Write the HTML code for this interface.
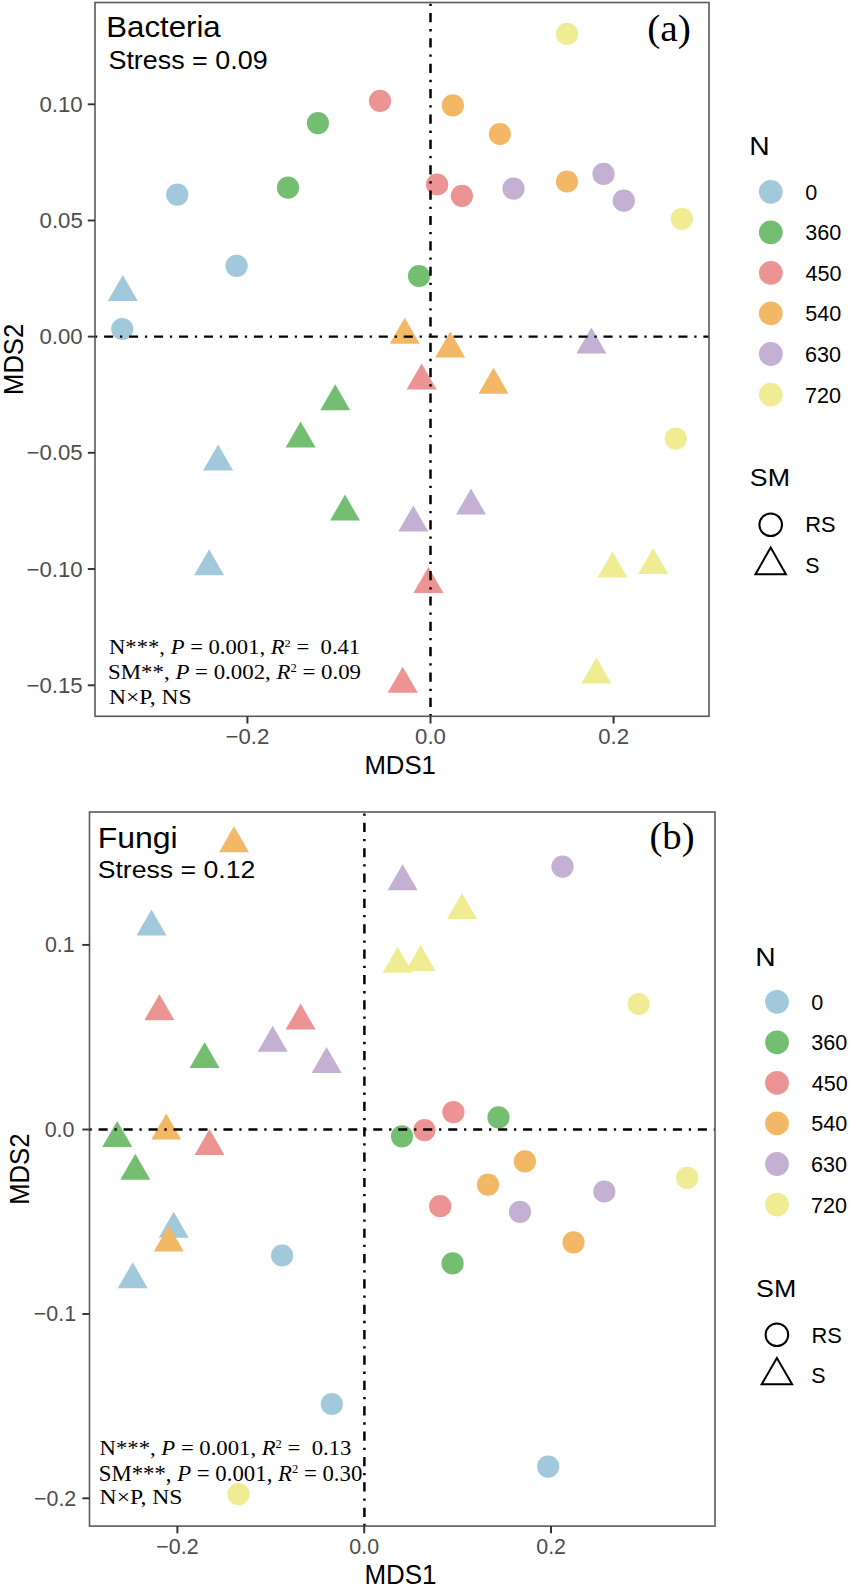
<!DOCTYPE html><html><head><meta charset='utf-8'><style>html,body{margin:0;padding:0;background:#fff}svg{display:block}</style></head><body><svg width='850' height='1587' viewBox='0 0 850 1587'><rect width='850' height='1587' fill='#fff'/><circle cx='380' cy='100.9' r='11.1' fill='#EC9494'/><circle cx='317.9' cy='123.1' r='11.1' fill='#74BE72'/><circle cx='177.3' cy='194.6' r='11.1' fill='#A2C8DC'/><circle cx='288' cy='187.7' r='11.1' fill='#74BE72'/><circle cx='236.6' cy='265.8' r='11.1' fill='#A2C8DC'/><circle cx='122.3' cy='329' r='11.1' fill='#A2C8DC'/><circle cx='567' cy='33.9' r='11.1' fill='#F0EC94'/><circle cx='452.9' cy='105.4' r='11.1' fill='#F2B866'/><circle cx='499.9' cy='134' r='11.1' fill='#F2B866'/><circle cx='437.1' cy='184.5' r='11.1' fill='#EC9494'/><circle cx='461.9' cy='195.8' r='11.1' fill='#EC9494'/><circle cx='513.5' cy='188.6' r='11.1' fill='#C4B0D2'/><circle cx='567' cy='181.5' r='11.1' fill='#F2B866'/><circle cx='603.5' cy='173.9' r='11.1' fill='#C4B0D2'/><circle cx='623.8' cy='200.7' r='11.1' fill='#C4B0D2'/><circle cx='681.8' cy='218.8' r='11.1' fill='#F0EC94'/><circle cx='419' cy='276' r='11.1' fill='#74BE72'/><circle cx='675.8' cy='438.6' r='11.1' fill='#F0EC94'/><path d='M122.8 274.9L137.8 300.9L107.8 300.9Z' fill='#A2C8DC'/><path d='M335.2 384.3L350.2 410.3L320.2 410.3Z' fill='#74BE72'/><path d='M300.6 421.6L315.6 447.6L285.6 447.6Z' fill='#74BE72'/><path d='M218.1 444.6L233.1 470.6L203.1 470.6Z' fill='#A2C8DC'/><path d='M345 494.6L360 520.6L330 520.6Z' fill='#74BE72'/><path d='M209.1 549.2L224.1 575.2L194.1 575.2Z' fill='#A2C8DC'/><path d='M404.7 317.7L419.7 343.7L389.7 343.7Z' fill='#F2B866'/><path d='M450.2 331.6L465.2 357.6L435.2 357.6Z' fill='#F2B866'/><path d='M591.4 327.5L606.4 353.5L576.4 353.5Z' fill='#C4B0D2'/><path d='M421.6 363.6L436.6 389.6L406.6 389.6Z' fill='#EC9494'/><path d='M493.5 367.7L508.5 393.7L478.5 393.7Z' fill='#F2B866'/><path d='M471 488.6L486 514.6L456 514.6Z' fill='#C4B0D2'/><path d='M413.3 505.5L428.3 531.5L398.3 531.5Z' fill='#C4B0D2'/><path d='M428.4 566.9L443.4 592.9L413.4 592.9Z' fill='#EC9494'/><path d='M612.5 551.5L627.5 577.5L597.5 577.5Z' fill='#F0EC94'/><path d='M653.2 548.1L668.2 574.1L638.2 574.1Z' fill='#F0EC94'/><path d='M402.7 666.8L417.7 692.8L387.7 692.8Z' fill='#EC9494'/><path d='M596.4 657.6L611.4 683.6L581.4 683.6Z' fill='#F0EC94'/><path d='M95 336.6H709' stroke='#000' stroke-width='2.3' stroke-dasharray='2.270 6.810 9.080 6.810' fill='none'/><path d='M430.5 716.3V2.5' stroke='#000' stroke-width='2.5' stroke-dasharray='2.306 6.918 9.224 6.918' fill='none'/><rect x='95' y='2.5' width='614' height='713.8' fill='none' stroke='#595959' stroke-width='1.6'/><path d='M247.4 716.3V723.5' stroke='#333' stroke-width='2'/><path d='M430.5 716.3V723.5' stroke='#333' stroke-width='2'/><path d='M613.6 716.3V723.5' stroke='#333' stroke-width='2'/><path d='M95 104.3H87.8' stroke='#333' stroke-width='1.9'/><path d='M95 220.5H87.8' stroke='#333' stroke-width='1.9'/><path d='M95 336.6H87.8' stroke='#333' stroke-width='1.9'/><path d='M95 452.8H87.8' stroke='#333' stroke-width='1.9'/><path d='M95 569H87.8' stroke='#333' stroke-width='1.9'/><path d='M95 685.3H87.8' stroke='#333' stroke-width='1.9'/><circle cx='562.5' cy='866.6' r='11.1' fill='#C4B0D2'/><circle cx='638.6' cy='1004' r='11.1' fill='#F0EC94'/><circle cx='453.4' cy='1112.1' r='11.1' fill='#EC9494'/><circle cx='498.5' cy='1117.4' r='11.1' fill='#74BE72'/><circle cx='402' cy='1136.3' r='11.1' fill='#74BE72'/><circle cx='424.4' cy='1130.1' r='11.1' fill='#EC9494'/><circle cx='524.9' cy='1161.4' r='11.1' fill='#F2B866'/><circle cx='488' cy='1184.7' r='11.1' fill='#F2B866'/><circle cx='440.2' cy='1206.2' r='11.1' fill='#EC9494'/><circle cx='520' cy='1211.8' r='11.1' fill='#C4B0D2'/><circle cx='604.3' cy='1191.5' r='11.1' fill='#C4B0D2'/><circle cx='687.2' cy='1177.9' r='11.1' fill='#F0EC94'/><circle cx='573.5' cy='1242.3' r='11.1' fill='#F2B866'/><circle cx='452.6' cy='1263.4' r='11.1' fill='#74BE72'/><circle cx='282.1' cy='1255.5' r='11.1' fill='#A2C8DC'/><circle cx='331.8' cy='1404' r='11.1' fill='#A2C8DC'/><circle cx='238.5' cy='1494.1' r='11.1' fill='#F0EC94'/><circle cx='548.2' cy='1466.6' r='11.1' fill='#A2C8DC'/><path d='M234 826.3L249 852.3L219 852.3Z' fill='#F2B866'/><path d='M151.5 909.5L166.5 935.5L136.5 935.5Z' fill='#A2C8DC'/><path d='M159.4 994.2L174.4 1020.2L144.4 1020.2Z' fill='#EC9494'/><path d='M300.6 1003.6L315.6 1029.6L285.6 1029.6Z' fill='#EC9494'/><path d='M272.7 1025.8L287.7 1051.8L257.7 1051.8Z' fill='#C4B0D2'/><path d='M204.6 1042L219.6 1068L189.6 1068Z' fill='#74BE72'/><path d='M326.6 1046.9L341.6 1072.9L311.6 1072.9Z' fill='#C4B0D2'/><path d='M402.6 864.3L417.6 890.3L387.6 890.3Z' fill='#C4B0D2'/><path d='M397.7 946.8L412.7 972.8L382.7 972.8Z' fill='#F0EC94'/><path d='M462 892.9L477 918.9L447 918.9Z' fill='#F0EC94'/><path d='M420.6 944.9L435.6 970.9L405.6 970.9Z' fill='#F0EC94'/><path d='M117.2 1121.1L132.2 1147.1L102.2 1147.1Z' fill='#74BE72'/><path d='M166.2 1113.5L181.2 1139.5L151.2 1139.5Z' fill='#F2B866'/><path d='M209.5 1129L224.5 1155L194.5 1155Z' fill='#EC9494'/><path d='M135.3 1153.8L150.3 1179.8L120.3 1179.8Z' fill='#74BE72'/><path d='M173.7 1211.8L188.7 1237.8L158.7 1237.8Z' fill='#A2C8DC'/><path d='M168.8 1225.4L183.8 1251.4L153.8 1251.4Z' fill='#F2B866'/><path d='M132.7 1262.3L147.7 1288.3L117.7 1288.3Z' fill='#A2C8DC'/><path d='M89.5 1129.5H715' stroke='#000' stroke-width='2.3' stroke-dasharray='2.270 6.810 9.080 6.810' fill='none'/><path d='M364.4 1526.1V812' stroke='#000' stroke-width='2.5' stroke-dasharray='2.306 6.918 9.224 6.918' fill='none'/><rect x='89.5' y='812' width='625.5' height='714.1' fill='none' stroke='#595959' stroke-width='1.6'/><path d='M177.4 1526.1V1533.3' stroke='#333' stroke-width='2'/><path d='M364.2 1526.1V1533.3' stroke='#333' stroke-width='2'/><path d='M551 1526.1V1533.3' stroke='#333' stroke-width='2'/><path d='M89.5 944.9H82.3' stroke='#333' stroke-width='1.9'/><path d='M89.5 1129.5H82.3' stroke='#333' stroke-width='1.9'/><path d='M89.5 1314H82.3' stroke='#333' stroke-width='1.9'/><path d='M89.5 1498.3H82.3' stroke='#333' stroke-width='1.9'/><text transform='translate(225.533,743.959) scale(0.2220,0.2220)' font-family='Liberation Sans' font-size='100' fill='#4D4D4D' >−0.2</text><text transform='translate(415.071,743.959) scale(0.2220,0.2220)' font-family='Liberation Sans' font-size='100' fill='#4D4D4D' >0.0</text><text transform='translate(598.282,743.959) scale(0.2220,0.2220)' font-family='Liberation Sans' font-size='100' fill='#4D4D4D' >0.2</text><text transform='translate(39.398,111.959) scale(0.2220,0.2220)' font-family='Liberation Sans' font-size='100' fill='#4D4D4D' >0.10</text><text transform='translate(39.62,228.159) scale(0.2220,0.2220)' font-family='Liberation Sans' font-size='100' fill='#4D4D4D' >0.05</text><text transform='translate(39.398,344.259) scale(0.2220,0.2220)' font-family='Liberation Sans' font-size='100' fill='#4D4D4D' >0.00</text><text transform='translate(26.522,460.459) scale(0.2220,0.2220)' font-family='Liberation Sans' font-size='100' fill='#4D4D4D' >−0.05</text><text transform='translate(26.522,576.659) scale(0.2220,0.2220)' font-family='Liberation Sans' font-size='100' fill='#4D4D4D' >−0.10</text><text transform='translate(26.522,692.959) scale(0.2220,0.2220)' font-family='Liberation Sans' font-size='100' fill='#4D4D4D' >−0.15</text><text transform='translate(156.321,1553.583) scale(0.2140,0.2140)' font-family='Liberation Sans' font-size='100' fill='#4D4D4D' >−0.2</text><text transform='translate(349.327,1553.583) scale(0.2140,0.2140)' font-family='Liberation Sans' font-size='100' fill='#4D4D4D' >0.0</text><text transform='translate(536.234,1553.583) scale(0.2140,0.2140)' font-family='Liberation Sans' font-size='100' fill='#4D4D4D' >0.2</text><text transform='translate(44.924,952.283) scale(0.2140,0.2140)' font-family='Liberation Sans' font-size='100' fill='#4D4D4D' >0.1</text><text transform='translate(44.71,1136.883) scale(0.2140,0.2140)' font-family='Liberation Sans' font-size='100' fill='#4D4D4D' >0.0</text><text transform='translate(33.798,1321.383) scale(0.2140,0.2140)' font-family='Liberation Sans' font-size='100' fill='#4D4D4D' >−0.1</text><text transform='translate(34.012,1505.683) scale(0.2140,0.2140)' font-family='Liberation Sans' font-size='100' fill='#4D4D4D' >−0.2</text><text transform='translate(106.304,36.8) scale(0.3120,0.2986)' font-family='Liberation Sans' font-size='100' fill='#000' >Bacteria</text><text transform='translate(108.455,69.3) scale(0.2689,0.2580)' font-family='Liberation Sans' font-size='100' fill='#000' >Stress = 0.09</text><text transform='translate(647.223,41.357) scale(0.3942,0.3878)' font-family='Liberation Serif' font-size='100' fill='#000' >(a)</text><text transform='translate(97.637,848.4) scale(0.3203,0.2957)' font-family='Liberation Sans' font-size='100' fill='#000' >Fungi</text><text transform='translate(97.668,877.7) scale(0.2663,0.2377)' font-family='Liberation Sans' font-size='100' fill='#000' >Stress = 0.12</text><text transform='translate(649.452,848.85) scale(0.3870,0.3833)' font-family='Liberation Serif' font-size='100' fill='#000' >(b)</text><text transform='translate(364.441,773.8) scale(0.2574,0.2638)' font-family='Liberation Sans' font-size='100' fill='#000' >MDS1</text><text transform='translate(364.423,1583.8) scale(0.2596,0.2725)' font-family='Liberation Sans' font-size='100' fill='#000' >MDS1</text><text transform='translate(22.627,394.95) rotate(-90) scale(0.2562,0.2732)' font-family='Liberation Sans' font-size='100' fill='#000' >MDS2</text><text transform='translate(28.824,1204.853) rotate(-90) scale(0.2566,0.2761)' font-family='Liberation Sans' font-size='100' fill='#000' >MDS2</text><text transform='translate(749.143,155.2) scale(0.2821,0.2623)' font-family='Liberation Sans' font-size='100' fill='#000' >N</text><circle cx='770.8' cy='191.8' r='11.9' fill='#A2C8DC'/><text transform='translate(805.137,199.821) scale(0.2158,0.2180)' font-family='Liberation Sans' font-size='100' fill='#000' >0</text><circle cx='770.8' cy='232.35' r='11.9' fill='#74BE72'/><text transform='translate(805.137,240.371) scale(0.2158,0.2180)' font-family='Liberation Sans' font-size='100' fill='#000' >360</text><circle cx='770.8' cy='272.9' r='11.9' fill='#EC9494'/><text transform='translate(805.568,280.921) scale(0.2158,0.2180)' font-family='Liberation Sans' font-size='100' fill='#000' >450</text><circle cx='770.8' cy='313.45' r='11.9' fill='#F2B866'/><text transform='translate(805.137,321.471) scale(0.2158,0.2180)' font-family='Liberation Sans' font-size='100' fill='#000' >540</text><circle cx='770.8' cy='354' r='11.9' fill='#C4B0D2'/><text transform='translate(804.921,362.021) scale(0.2158,0.2180)' font-family='Liberation Sans' font-size='100' fill='#000' >630</text><circle cx='770.8' cy='394.55' r='11.9' fill='#F0EC94'/><text transform='translate(804.921,402.571) scale(0.2158,0.2180)' font-family='Liberation Sans' font-size='100' fill='#000' >720</text><text transform='translate(749.861,485.6) scale(0.2679,0.2420)' font-family='Liberation Sans' font-size='100' fill='#000' >SM</text><circle cx='770.7' cy='524.7' r='11.3' fill='none' stroke='#000' stroke-width='2'/><text transform='translate(805.254,532.4) scale(0.2183,0.2145)' font-family='Liberation Sans' font-size='100' fill='#000' >RS</text><path d='M770.7 547.6L785.9 574.2L755.5 574.2Z' fill='none' stroke='#000' stroke-width='2' stroke-linejoin='miter'/><text transform='translate(805.13,572.6) scale(0.2140,0.2174)' font-family='Liberation Sans' font-size='100' fill='#000' >S</text><text transform='translate(755.343,965.7) scale(0.2821,0.2623)' font-family='Liberation Sans' font-size='100' fill='#000' >N</text><circle cx='777' cy='1001.8' r='11.9' fill='#A2C8DC'/><text transform='translate(811.337,1009.821) scale(0.2158,0.2180)' font-family='Liberation Sans' font-size='100' fill='#000' >0</text><circle cx='777' cy='1042.35' r='11.9' fill='#74BE72'/><text transform='translate(811.337,1050.371) scale(0.2158,0.2180)' font-family='Liberation Sans' font-size='100' fill='#000' >360</text><circle cx='777' cy='1082.9' r='11.9' fill='#EC9494'/><text transform='translate(811.768,1090.921) scale(0.2158,0.2180)' font-family='Liberation Sans' font-size='100' fill='#000' >450</text><circle cx='777' cy='1123.45' r='11.9' fill='#F2B866'/><text transform='translate(811.337,1131.471) scale(0.2158,0.2180)' font-family='Liberation Sans' font-size='100' fill='#000' >540</text><circle cx='777' cy='1164' r='11.9' fill='#C4B0D2'/><text transform='translate(811.121,1172.021) scale(0.2158,0.2180)' font-family='Liberation Sans' font-size='100' fill='#000' >630</text><circle cx='777' cy='1204.55' r='11.9' fill='#F0EC94'/><text transform='translate(811.121,1212.571) scale(0.2158,0.2180)' font-family='Liberation Sans' font-size='100' fill='#000' >720</text><text transform='translate(756.061,1296.9) scale(0.2679,0.2420)' font-family='Liberation Sans' font-size='100' fill='#000' >SM</text><circle cx='776.9' cy='1334.7' r='11.3' fill='none' stroke='#000' stroke-width='2'/><text transform='translate(811.454,1342.9) scale(0.2183,0.2145)' font-family='Liberation Sans' font-size='100' fill='#000' >RS</text><path d='M776.9 1358.1L792.1 1384.2L761.7 1384.2Z' fill='none' stroke='#000' stroke-width='2' stroke-linejoin='miter'/><text transform='translate(811.33,1383.1) scale(0.2140,0.2174)' font-family='Liberation Sans' font-size='100' fill='#000' >S</text><text transform='translate(109.021,653.898) scale(0.2264,0.2015)' font-family='Liberation Serif' font-size='100' fill='#000' ><tspan>N***, </tspan><tspan font-style='italic'>P</tspan><tspan> = 0.001, </tspan><tspan font-style='italic'>R</tspan><tspan font-size='55' dy='-34'>2</tspan><tspan dy='34'> =  0.41</tspan></text><text transform='translate(108.099,679.386) scale(0.2286,0.2136)' font-family='Liberation Serif' font-size='100' fill='#000' ><tspan>SM**, </tspan><tspan font-style='italic'>P</tspan><tspan> = 0.002, </tspan><tspan font-style='italic'>R</tspan><tspan font-size='55' dy='-34'>2</tspan><tspan dy='34'> = 0.09</tspan></text><text transform='translate(108.993,703.8) scale(0.2357,0.2000)' font-family='Liberation Serif' font-size='100' fill='#000' ><tspan>N×P, NS</tspan></text><text transform='translate(99.619,1454.788) scale(0.2269,0.2121)' font-family='Liberation Serif' font-size='100' fill='#000' ><tspan>N***, </tspan><tspan font-style='italic'>P</tspan><tspan> = 0.001, </tspan><tspan font-style='italic'>R</tspan><tspan font-size='55' dy='-34'>2</tspan><tspan dy='34'> =  0.13</tspan></text><text transform='translate(98.705,1480.671) scale(0.2279,0.2288)' font-family='Liberation Serif' font-size='100' fill='#000' ><tspan>SM***, </tspan><tspan font-style='italic'>P</tspan><tspan> = 0.001, </tspan><tspan font-style='italic'>R</tspan><tspan font-size='55' dy='-34'>2</tspan><tspan dy='34'> = 0.30</tspan></text><text transform='translate(99.592,1504.185) scale(0.2360,0.2152)' font-family='Liberation Serif' font-size='100' fill='#000' ><tspan>N×P, NS</tspan></text></svg></body></html>
